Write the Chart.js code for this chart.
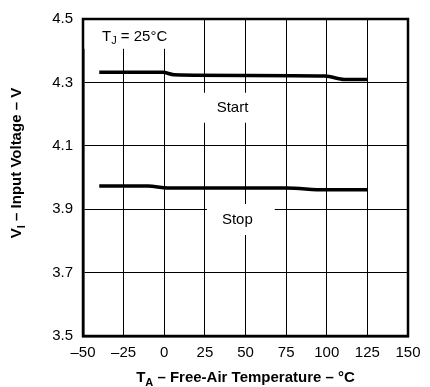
<!DOCTYPE html>
<html>
<head>
<meta charset="utf-8">
<script src="https://cdn.jsdelivr.net/npm/chart.js@4"></script>
<style>
  html, body { margin: 0; padding: 0; background: #fff; }
  #wrap { width: 430px; height: 387px; position: relative; }
</style>
</head>
<body>
<div id="wrap"><canvas id="chart"></canvas></div>
<script>
// --- DATA ---
const startTemps = [-40, -1, 6, 50, 99, 111, 125];
const startVolts = [4.332, 4.332, 4.324, 4.322, 4.320, 4.309, 4.309];
const stopTemps = [-40, -10, 2, 75, 99, 125];
const stopVolts = [3.973, 3.973, 3.967, 3.967, 3.961, 3.961];
const xTicks = [-50, -25, 0, 25, 50, 75, 100, 125, 150];
const yTicks = [3.5, 3.7, 3.9, 4.1, 4.3, 4.5];

const FONT = '"Liberation Sans", Arial, sans-serif';

// in-plot labels (data coords) with white boxes that break the grid
const notes = [
  { parts: [{ t: 'Start' }], x: 42, y: 4.22, align: 'center', pad: [16, 16, 15, 15] },
  { parts: [{ t: 'Stop' }], x: 45, y: 3.866, align: 'center', pad: [15, 22, 16, 15] },
  { parts: [{ t: 'T' }, { t: 'J', sub: true }, { t: ' = 25°C' }], x: -38.3, y: 4.444, align: 'left', pad: [18, 12, 20, 12] }
];

function toPoints(xs, ys) {
  return xs.map((x, i) => ({ x: x, y: ys[i] }));
}

function partsWidth(ctx, parts, size, bold) {
  let w = 0;
  parts.forEach(p => {
    ctx.font = (bold ? 'bold ' : '') + (p.sub ? Math.round(size * 0.7) : size) + 'px ' + FONT;
    w += ctx.measureText(p.t).width;
  });
  return w;
}

// draws text with subscripts, baseline-middle at (x, y)
function drawParts(ctx, parts, x, y, size, bold, align) {
  const total = partsWidth(ctx, parts, size, bold);
  let cx = align === 'center' ? x - total / 2 : x;
  ctx.textBaseline = 'middle';
  ctx.textAlign = 'left';
  ctx.fillStyle = '#000';
  parts.forEach(p => {
    const s = p.sub ? Math.round(size * 0.7) : size;
    ctx.font = (bold ? 'bold ' : '') + s + 'px ' + FONT;
    ctx.fillText(p.t, cx, p.sub ? y + size * 0.3 : y);
    cx += ctx.measureText(p.t).width;
  });
  return total;
}

const decorPlugin = {
  id: 'decor',
  afterDatasetsDraw(chart) {
    const ctx = chart.ctx;
    const xs = chart.scales.x, ys = chart.scales.y;
    const area = chart.chartArea;
    ctx.save();
    notes.forEach(n => {
      const px = xs.getPixelForValue(n.x);
      const py = ys.getPixelForValue(n.y);
      const w = partsWidth(ctx, n.parts, 15, false);
      const left = n.align === 'center' ? px - w / 2 : px;
      const bx0 = Math.max(area.left + 1, left - n.pad[0]);
      const bx1 = Math.min(area.right - 1, left + w + n.pad[1]);
      const by0 = Math.max(area.top + 1, py - n.pad[2]);
      const by1 = Math.min(area.bottom - 1, py + n.pad[3]);
      ctx.fillStyle = '#fff';
      ctx.fillRect(bx0, by0, bx1 - bx0, by1 - by0);
      drawParts(ctx, n.parts, left, py, 15, false, 'left');
    });
    // full frame
    ctx.strokeStyle = '#000';
    ctx.lineWidth = 2.5;
    ctx.strokeRect(area.left, area.top, area.right - area.left, area.bottom - area.top);

    // axis titles
    drawParts(ctx, [{ t: 'T' }, { t: 'A', sub: true }, { t: ' – Free-Air Temperature – °C' }],
      (area.left + area.right) / 2, 378, 15, true, 'center');
    ctx.translate(17, 163);
    ctx.rotate(-Math.PI / 2);
    drawParts(ctx, [{ t: 'V' }, { t: 'I', sub: true }, { t: ' – Input Voltage – V' }], 0, 0, 15, true, 'center');
    ctx.restore();
  }
};

const seriesStyle = {
  borderColor: '#000',
  borderWidth: 3.5,
  pointRadius: 0,
  fill: false,
  showLine: true,
  cubicInterpolationMode: 'monotone'
};

new Chart(document.getElementById('chart'), {
  type: 'scatter',
  data: {
    datasets: [
      Object.assign({ label: 'Start', data: toPoints(startTemps, startVolts) }, seriesStyle),
      Object.assign({ label: 'Stop', data: toPoints(stopTemps, stopVolts) }, seriesStyle)
    ]
  },
  options: {
    responsive: true,
    maintainAspectRatio: false,
    animation: false,
    layout: { padding: { top: 12, right: 22, left: 0, bottom: 0 } },
    plugins: { legend: { display: false }, tooltip: { enabled: false } },
    scales: {
      x: {
        type: 'linear',
        min: xTicks[0],
        max: xTicks[xTicks.length - 1],
        afterBuildTicks: s => { s.ticks = xTicks.map(v => ({ value: v })); },
        afterFit: s => { s.height = 51; },
        ticks: {
          color: '#000',
          padding: 8,
          font: { family: FONT, size: 15 },
          callback: v => String(v).replace('-', '–')
        },
        grid: { color: '#000', lineWidth: 1, drawTicks: false },
        border: { color: '#000', width: 2.5 }
      },
      y: {
        min: yTicks[0],
        max: yTicks[yTicks.length - 1],
        afterBuildTicks: s => { s.ticks = yTicks.map(v => ({ value: v })); },
        afterFit: s => { s.width = 83; },
        ticks: {
          color: '#000',
          padding: 10,
          font: { family: FONT, size: 15 },
          callback: v => v.toFixed(1)
        },
        grid: { color: '#000', lineWidth: 1, drawTicks: false },
        border: { color: '#000', width: 2.5 }
      }
    }
  },
  plugins: [decorPlugin]
});
</script>
</body>
</html>
